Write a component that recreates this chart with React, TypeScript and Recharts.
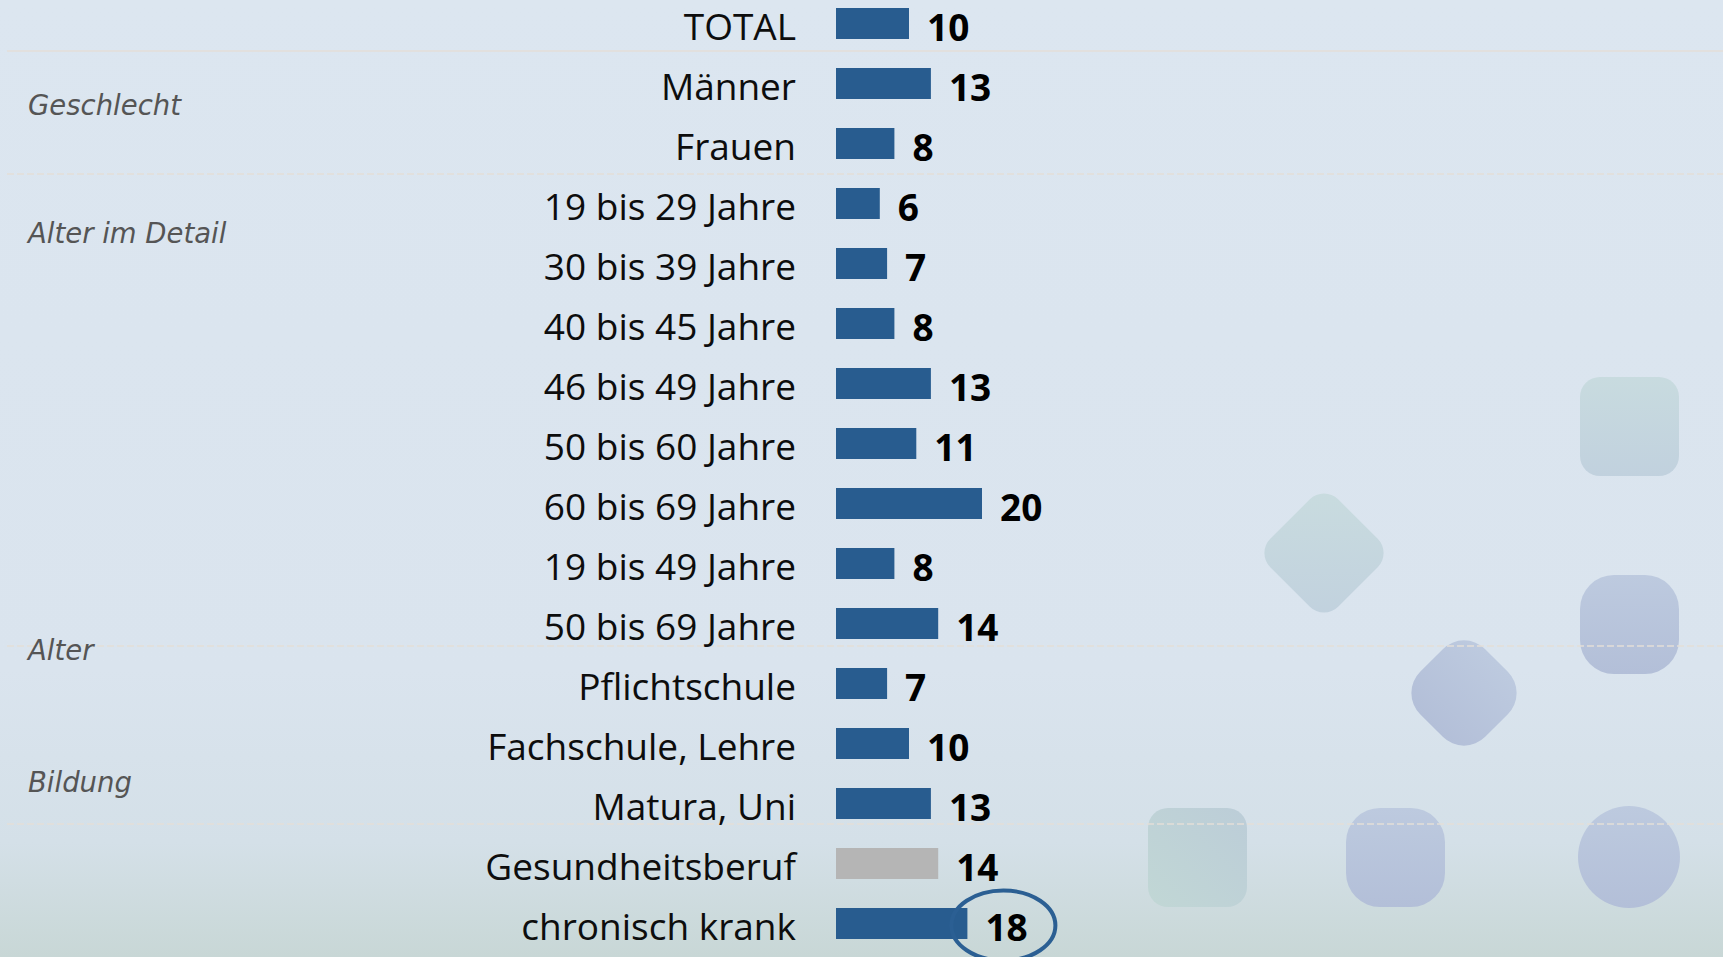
import React from 'react';
import { BarChart, Bar, XAxis, YAxis, Cell, LabelList } from 'recharts';

const categories = [
  'TOTAL',
  'Männer',
  'Frauen',
  '19 bis 29 Jahre',
  '30 bis 39 Jahre',
  '40 bis 45 Jahre',
  '46 bis 49 Jahre',
  '50 bis 60 Jahre',
  '60 bis 69 Jahre',
  '19 bis 49 Jahre',
  '50 bis 69 Jahre',
  'Pflichtschule',
  'Fachschule, Lehre',
  'Matura, Uni',
  'Gesundheitsberuf',
  'chronisch krank',
];
const values = [10, 13, 8, 6, 7, 8, 13, 11, 20, 8, 14, 7, 10, 13, 14, 18];
const groupLabels = ['Geschlecht', 'Alter im Detail', 'Alter', 'Bildung'];
const greyCategory = 'Gesundheitsberuf';
const circledCategory = 'chronisch krank';

const BLUE = '#285c8f';
const GREY = '#b5b5b5';

const data = categories.map((name, i) => ({ name, value: values[i] }));

// layout of decorative bits (pixel positions of the slide)
const groupLabelY = [115, 243, 660, 792];
const separatorY = [51, 174, 646, 824];

const CategoryTick = (props: any) => {
  const { x, y, payload } = props;
  return (
    <text
      x={x}
      y={y}
      dy={17}
      textAnchor="end"
      fill="#0d0d0d"
      style={{ fontFamily: '"Open Sans", sans-serif', fontSize: 37 }}
    >
      {payload.value}
    </text>
  );
};

const ValueLabel = (props: any) => {
  const { x, y, width, height, value, index } = props;
  const cy = y + height / 2;
  const lx = x + width + 18;
  const circled = categories[index] === circledCategory;
  return (
    <g>
      {circled && (
        <ellipse cx={x + width + 36} cy={cy + 2} rx={52} ry={35} fill="none" stroke="#2b5f93" strokeWidth={4} />
      )}
      <text
        x={lx}
        y={cy}
        dy={17}
        fill="#000"
        style={{ fontFamily: '"Open Sans", sans-serif', fontSize: 37, fontWeight: 700 }}
      >
        {value}
      </text>
    </g>
  );
};

const Decorations = () => (
  <svg width={1723} height={957} style={{ position: 'absolute', left: 0, top: 0 }}>
    <defs>
      <linearGradient id="tealV" x1="0" y1="0" x2="0" y2="1">
        <stop offset="0%" stopColor="#c8dbdf" />
        <stop offset="100%" stopColor="#c1d1de" />
      </linearGradient>
      <linearGradient id="tealD" x1="0" y1="0" x2="1" y2="1">
        <stop offset="0%" stopColor="#c9dcdf" />
        <stop offset="100%" stopColor="#c1d1de" />
      </linearGradient>
      <linearGradient id="tealH" x1="0" y1="1" x2="1" y2="0">
        <stop offset="0%" stopColor="#c1d7d5" />
        <stop offset="100%" stopColor="#bccdd8" />
      </linearGradient>
      <linearGradient id="blueV" x1="0" y1="0" x2="0" y2="1">
        <stop offset="0%" stopColor="#bdcadf" />
        <stop offset="100%" stopColor="#b3bfd8" />
      </linearGradient>
    </defs>
    <rect x={1580} y={377} width={99} height={99} rx={20} fill="url(#tealV)" />
    <rect x={1580} y={575} width={99} height={99} rx={34} fill="url(#blueV)" />
    <rect x={1148} y={808} width={99} height={99} rx={20} fill="url(#tealH)" />
    <rect x={1346} y={808} width={99} height={99} rx={34} fill="url(#blueV)" />
    <ellipse cx={1629} cy={857} rx={51} ry={51} fill="url(#blueV)" />
    <rect x={1324 - 48} y={553 - 48} width={96} height={96} rx={20} fill="url(#tealD)" transform="rotate(45 1324 553)" />
    <rect x={1464 - 46} y={693 - 46} width={92} height={92} rx={30} fill="url(#blueV)" transform="rotate(45 1464 693)" />
    {separatorY.map((y, i) => (
      <line
        key={y}
        x1={7}
        x2={1723}
        y1={y}
        y2={y}
        stroke="#e4ded8"
        strokeWidth={1.5}
        strokeDasharray={i === 0 ? undefined : '7 3'}
      />
    ))}
    {groupLabels.map((g, i) => (
      <text
        key={g}
        x={28}
        y={groupLabelY[i]}
        fill="#555555"
        style={{ fontFamily: '"DejaVu Sans", sans-serif', fontSize: 27.5, fontStyle: 'italic' }}
      >
        {g}
      </text>
    ))}
  </svg>
);

export default function App() {
  return (
    <div
      style={{
        position: 'absolute',
        left: 0,
        top: 0,
        width: 1723,
        height: 957,
        overflow: 'hidden',
        background: 'linear-gradient(to bottom, #dce6f0 0%, #dae4ee 70%, #d4e0e8 88%, #c8d7d6 100%)',
      }}
    >
      <Decorations />
      <div style={{ position: 'absolute', left: 0, top: -7 }}>
        <BarChart
          layout="vertical"
          width={1723}
          height={970}
          data={data}
          margin={{ top: 0, right: 157, bottom: 10, left: 0 }}
        >
          <XAxis type="number" domain={[0, 100]} hide />
          <YAxis
            type="category"
            dataKey="name"
            width={836}
            tickLine={false}
            axisLine={false}
            tickSize={0}
            tickMargin={40}
            interval={0}
            tick={<CategoryTick />}
          />
          <Bar dataKey="value" barSize={31} isAnimationActive={false}>
            {data.map((d) => (
              <Cell key={d.name} fill={d.name === greyCategory ? GREY : BLUE} />
            ))}
            <LabelList dataKey="value" content={<ValueLabel />} />
          </Bar>
        </BarChart>
      </div>
    </div>
  );
}
